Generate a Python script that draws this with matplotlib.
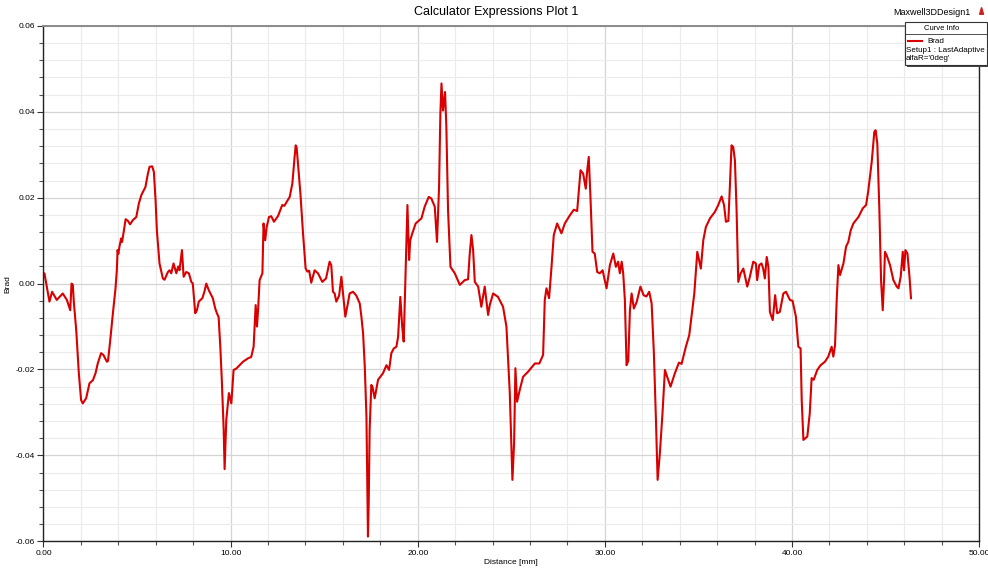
import matplotlib.pyplot as plt
from matplotlib.ticker import MultipleLocator, FormatStrFormatter
from matplotlib.patches import Rectangle, Polygon
from matplotlib.lines import Line2D

plt.rcParams['font.family'] = ['Liberation Sans', 'DejaVu Sans']

# Brad le long de la ligne de mesure
distance = [
    0.00, 0.05, 0.15, 0.32, 0.46, 0.71, 1.03, 1.25, 1.43, 1.50, 1.57, 1.62,
    1.75, 1.89, 2.01, 2.10, 2.28, 2.46, 2.64, 2.78, 2.90, 3.08, 3.20, 3.39,
    3.45, 3.57, 3.71, 3.85, 3.92, 3.96, 4.00, 4.06, 4.15, 4.20, 4.30, 4.39,
    4.51, 4.63, 4.78, 4.96, 5.10, 5.23, 5.31, 5.45, 5.58, 5.67, 5.81, 5.90,
    5.99, 6.06, 6.20, 6.38, 6.47, 6.65, 6.74, 6.83, 6.95, 7.10, 7.20, 7.27,
    7.40, 7.49, 7.63, 7.77, 7.90, 7.98, 8.11, 8.20, 8.30, 8.49, 8.60, 8.70,
    8.84, 9.05, 9.18, 9.27, 9.36, 9.45, 9.53, 9.63, 9.68, 9.77, 9.91, 10.04,
    10.16, 10.30, 10.66, 10.93, 11.10, 11.23, 11.34, 11.41, 11.47, 11.55,
    11.70, 11.76, 11.85, 11.93, 12.05, 12.17, 12.32, 12.53, 12.76, 12.87,
    13.16, 13.30, 13.42, 13.48, 13.53, 13.73, 13.87, 14.01, 14.10, 14.20,
    14.31, 14.49, 14.67, 14.90, 15.10, 15.29, 15.38, 15.47, 15.56, 15.65,
    15.80, 15.92, 16.00, 16.13, 16.25, 16.36, 16.54, 16.72, 16.90, 16.99,
    17.08, 17.17, 17.26, 17.34, 17.38, 17.43, 17.52, 17.58, 17.70, 17.88,
    18.14, 18.33, 18.47, 18.59, 18.72, 18.86, 18.95, 19.07, 19.17, 19.25,
    19.36, 19.45, 19.54, 19.60, 19.71, 19.89, 20.20, 20.37, 20.59, 20.73,
    20.91, 21.03, 21.14, 21.21, 21.27, 21.35, 21.46, 21.53, 21.62, 21.75,
    21.98, 22.25, 22.51, 22.69, 22.78, 22.87, 22.96, 23.05, 23.23, 23.40,
    23.58, 23.76, 23.85, 24.03, 24.29, 24.56, 24.74, 24.92, 25.06, 25.15,
    25.22, 25.31, 25.45, 25.63, 25.90, 26.26, 26.50, 26.70, 26.79, 26.88,
    27.02, 27.15, 27.27, 27.45, 27.68, 27.86, 28.13, 28.34, 28.52, 28.70,
    28.84, 28.98, 29.05, 29.14, 29.23, 29.34, 29.46, 29.59, 29.73, 29.88,
    30.09, 30.27, 30.45, 30.59, 30.71, 30.80, 30.90, 30.98, 31.07, 31.16,
    31.25, 31.34, 31.43, 31.55, 31.70, 31.90, 32.07, 32.22, 32.37, 32.50,
    32.62, 32.73, 32.82, 32.94, 33.08, 33.21, 33.33, 33.51, 33.74, 33.96,
    34.10, 34.33, 34.51, 34.63, 34.78, 34.94, 35.13, 35.26, 35.40, 35.62,
    35.88, 36.06, 36.24, 36.37, 36.47, 36.60, 36.68, 36.77, 36.86, 36.95,
    37.04, 37.13, 37.25, 37.40, 37.61, 37.75, 37.93, 38.07, 38.14, 38.25,
    38.37, 38.46, 38.55, 38.65, 38.74, 38.82, 38.97, 39.10, 39.21, 39.35,
    39.54, 39.68, 39.89, 40.03, 40.21, 40.34, 40.46, 40.52, 40.61, 40.82,
    40.95, 41.05, 41.16, 41.35, 41.53, 41.76, 41.94, 42.12, 42.21, 42.30,
    42.39, 42.48, 42.57, 42.75, 42.89, 43.01, 43.14, 43.28, 43.55, 43.78,
    43.96, 44.08, 44.26, 44.40, 44.47, 44.56, 44.67, 44.76, 44.85, 44.92,
    44.97, 45.06, 45.24, 45.42, 45.60, 45.69, 45.81, 45.92, 45.99, 46.06,
    46.17, 46.28, 46.36,
]
brad = [
    0.0020, 0.0024, 0.0000, -0.0042, -0.0019, -0.0038, -0.0023, -0.0038,
    -0.0062, 0.0000, -0.0003, -0.0042, -0.0108, -0.0209, -0.0271, -0.0279,
    -0.0267, -0.0232, -0.0225, -0.0209, -0.0186, -0.0162, -0.0166, -0.0182,
    -0.0180, -0.0131, -0.0069, -0.0011, 0.0031, 0.0078, 0.0069, 0.0086,
    0.0105, 0.0097, 0.0124, 0.0150, 0.0146, 0.0138, 0.0148, 0.0155, 0.0187,
    0.0206, 0.0213, 0.0225, 0.0256, 0.0272, 0.0273, 0.0260, 0.0194, 0.0124,
    0.0047, 0.0012, 0.0009, 0.0027, 0.0031, 0.0024, 0.0047, 0.0024, 0.0040,
    0.0031, 0.0078, 0.0016, 0.0027, 0.0024, 0.0004, 0.0000, -0.0069,
    -0.0062, -0.0042, -0.0034, -0.0019, 0.0000, -0.0016, -0.0034, -0.0058,
    -0.0069, -0.0078, -0.0147, -0.0224, -0.0340, -0.0432, -0.0317, -0.0255,
    -0.0279, -0.0201, -0.0198, -0.0182, -0.0174, -0.0171, -0.0147, -0.0050,
    -0.0100, -0.0060, 0.0008, 0.0024, 0.0140, 0.0101, 0.0132, 0.0155,
    0.0157, 0.0144, 0.0157, 0.0183, 0.0181, 0.0202, 0.0233, 0.0295, 0.0322,
    0.0317, 0.0210, 0.0117, 0.0035, 0.0028, 0.0030, 0.0002, 0.0031, 0.0024,
    0.0004, 0.0012, 0.0051, 0.0043, -0.0019, -0.0023, -0.0042, -0.0028,
    0.0016, -0.0019, -0.0077, -0.0050, -0.0023, -0.0019, -0.0028, -0.0046,
    -0.0077, -0.0116, -0.0193, -0.0310, -0.0589, -0.0511, -0.0341, -0.0236,
    -0.0240, -0.0267, -0.0224, -0.0209, -0.0190, -0.0201, -0.0162, -0.0151,
    -0.0147, -0.0124, -0.0031, -0.0100, -0.0135, 0.0039, 0.0183, 0.0055,
    0.0101, 0.0117, 0.0140, 0.0152, 0.0179, 0.0202, 0.0198, 0.0179, 0.0097,
    0.0225, 0.0396, 0.0466, 0.0403, 0.0446, 0.0365, 0.0171, 0.0039, 0.0024,
    -0.0003, 0.0008, 0.0010, 0.0070, 0.0113, 0.0078, 0.0004, -0.0007,
    -0.0054, -0.0007, -0.0073, -0.0050, -0.0023, -0.0031, -0.0054, -0.0100,
    -0.0255, -0.0457, -0.0372, -0.0197, -0.0275, -0.0248, -0.0217, -0.0205,
    -0.0186, -0.0186, -0.0166, -0.0038, -0.0011, -0.0034, 0.0039, 0.0113,
    0.0140, 0.0117, 0.0140, 0.0159, 0.0172, 0.0169, 0.0264, 0.0256, 0.0221,
    0.0260, 0.0295, 0.0202, 0.0074, 0.0070, 0.0027, 0.0024, 0.0031, -0.0011,
    0.0043, 0.0070, 0.0039, 0.0051, 0.0024, 0.0051, 0.0024, -0.0038,
    -0.0190, -0.0180, -0.0062, -0.0023, -0.0058, -0.0043, -0.0007, -0.0027,
    -0.0030, -0.0019, -0.0046, -0.0162, -0.0317, -0.0457, -0.0395, -0.0302,
    -0.0201, -0.0217, -0.0240, -0.0209, -0.0184, -0.0187, -0.0147, -0.0120,
    -0.0077, -0.0023, 0.0074, 0.0035, 0.0101, 0.0132, 0.0152, 0.0167,
    0.0183, 0.0203, 0.0183, 0.0144, 0.0146, 0.0225, 0.0322, 0.0318, 0.0287,
    0.0171, 0.0004, 0.0023, 0.0035, -0.0007, 0.0016, 0.0051, 0.0047, 0.0008,
    0.0043, 0.0047, 0.0035, 0.0012, 0.0062, 0.0039, -0.0066, -0.0085,
    -0.0027, -0.0069, -0.0066, -0.0023, -0.0019, -0.0038, -0.0040, -0.0077,
    -0.0147, -0.0151, -0.0271, -0.0364, -0.0356, -0.0302, -0.0220, -0.0224,
    -0.0201, -0.0190, -0.0182, -0.0170, -0.0147, -0.0170, -0.0144, -0.0038,
    0.0043, 0.0020, 0.0047, 0.0086, 0.0097, 0.0124, 0.0140, 0.0155, 0.0175,
    0.0183, 0.0217, 0.0283, 0.0353, 0.0357, 0.0326, 0.0171, 0.0008, -0.0062,
    0.0008, 0.0074, 0.0066, 0.0043, 0.0008, -0.0007, -0.0011, 0.0016,
    0.0074, 0.0031, 0.0078, 0.0070, 0.0016, -0.0034,
]

plot_title = "Calculator Expressions Plot 1"
design_name = "Maxwell3DDesign1"
legend_lines = ["Brad", "Setup1 : LastAdaptive", "alfaR='0deg'"]

fig = plt.figure(figsize=(9.88, 5.72), dpi=100)
ax = fig.add_axes([0.044, 0.0537, 0.947, 0.901])

ax.plot(distance, brad, color='#d80000', lw=1.5, solid_joinstyle='round')

ax.set_xlim(0, 50)
ax.set_ylim(-0.06, 0.06)
ax.xaxis.set_major_locator(MultipleLocator(10))
ax.xaxis.set_minor_locator(MultipleLocator(2))
ax.yaxis.set_major_locator(MultipleLocator(0.02))
ax.yaxis.set_minor_locator(MultipleLocator(0.004))
ax.xaxis.set_major_formatter(FormatStrFormatter('%.2f'))
ax.yaxis.set_major_formatter(FormatStrFormatter('%.2f'))

ax.grid(which='major', color='#d4d4d4', lw=0.9)
ax.grid(which='minor', color='#ebebeb', lw=0.8)
ax.set_axisbelow(True)

ax.tick_params(which='major', labelsize=6, length=4, width=0.8,
               color='#333333', pad=2)
ax.tick_params(which='minor', length=3, width=0.8, color='#555555')

for side in ['left', 'bottom', 'right']:
    ax.spines[side].set_color('#222222')
    ax.spines[side].set_linewidth(1.0)
ax.spines['top'].set_color('#8a8a8a')
ax.spines['top'].set_linewidth(1.4)

ax.set_xlabel('Distance [mm]', fontsize=6, labelpad=2)
ax.set_ylabel('Brad', fontsize=6, labelpad=3)

fig.text(0.5025, 0.979, plot_title, ha='center', va='center', fontsize=9)
fig.text(0.982, 0.979, design_name, ha='right', va='center', fontsize=6.5)
fig.patches.append(Polygon([[0.9915, 0.975], [0.9955, 0.975], [0.9935, 0.987]],
                           closed=True, color='#cc2222',
                           transform=fig.transFigure, figure=fig))

# encadre "Curve Info"
bx, by, bw, bh = 0.916, 0.886, 0.083, 0.075
fig.patches.append(Rectangle((bx + 0.002, by - 0.004), bw, bh,
                             transform=fig.transFigure, figure=fig,
                             facecolor='#444444', edgecolor='none', zorder=5))
fig.patches.append(Rectangle((bx, by), bw, bh, transform=fig.transFigure,
                             figure=fig, facecolor='white',
                             edgecolor='#333333', lw=0.8, zorder=6))
fig.add_artist(Line2D([bx, bx + bw], [by + bh - 0.021, by + bh - 0.021],
                      transform=fig.transFigure, color='#333333', lw=0.6,
                      zorder=7))
fig.text(bx + 0.037, by + bh - 0.0105, 'Curve Info', ha='center',
         va='center', fontsize=5.5, zorder=8)
fig.add_artist(Line2D([bx + 0.003, bx + 0.017], [by + 0.042, by + 0.042],
                      transform=fig.transFigure, color='#d80000', lw=1.5,
                      zorder=8))
fig.text(bx + 0.023, by + 0.042, legend_lines[0], ha='left', va='center',
         fontsize=5.8, zorder=8)
fig.text(bx + 0.001, by + 0.026, legend_lines[1], ha='left', va='center',
         fontsize=5.8, zorder=8)
fig.text(bx + 0.001, by + 0.011, legend_lines[2], ha='left', va='center',
         fontsize=5.8, zorder=8)

fig.savefig('out.png', dpi=100)
